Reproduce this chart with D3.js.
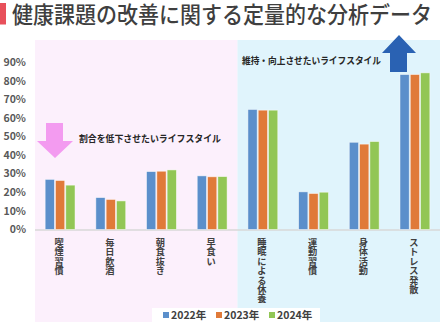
<!DOCTYPE html>
<html><head><meta charset="utf-8">
<script src="https://cdn.jsdelivr.net/npm/d3@7"></script>
<style>
body{margin:0;background:#fff;}
svg{display:block;font-family:"Noto Sans CJK JP","Noto Sans",sans-serif;}
</style></head><body>
<svg id="c" width="445" height="328"></svg>
<script>
const title = "健康課題の改善に関する定量的な分析データ";
const categories = ["喫煙習慣","毎日飲酒","朝食抜き","早食い","睡眠による休養","運動習慣","身体活動","ストレス発散"];
const years = ["2022年","2023年","2024年"];
const v2022 = [27.0, 17.2, 31.2, 28.9, 64.7, 20.3, 47.0, 83.5];
const v2023 = [26.4, 16.2, 31.4, 28.4, 64.3, 19.4, 46.0, 83.5];
const v2024 = [23.9, 15.4, 32.1, 28.5, 64.3, 20.1, 47.4, 84.4];
const yTicks = [0,10,20,30,40,50,60,70,80,90];
const colors = ["#5b8fcb","#e07a39","#92c655"];
const leftNote = "割合を低下させたいライフスタイル";
const rightNote = "維持・向上させたいライフスタイル";

const series = [v2022, v2023, v2024];
const svg = d3.select("#c");
const L = 35, R = 440, T = 40, B = 322;
const y0 = 229.5;

const x = d3.scaleBand().domain(categories).range([L, R]).paddingInner(0.37).paddingOuter(0.18);
const xi = d3.scaleBand().domain(years).range([0, x.bandwidth()]).padding(0.1);
const y = d3.scaleLinear().domain([0, 100]).range([y0, y0 - 185.6]);

// backgrounds
const mid = x(categories[4]) - x.step()*x.paddingInner()/2;
svg.append("rect").attr("x", L).attr("y", T).attr("width", mid - L).attr("height", B - T).attr("fill", "#fcf0fc");
svg.append("rect").attr("x", mid).attr("y", T).attr("width", R - mid).attr("height", B - T).attr("fill", "#e0f4fc");

// title
svg.append("rect").attr("x", 0).attr("y", 3).attr("width", 6).attr("height", 21.5).attr("fill", "#e8505b");
svg.append("text").attr("x", 12).attr("y", 23.2).attr("font-size", 22.5).attr("font-weight", 500)
  .attr("textLength", 420).attr("lengthAdjust", "spacingAndGlyphs")
  .attr("fill", "#3f3f3f").text(title);

// y axis labels
svg.append("g").selectAll("text").data(yTicks).join("text")
  .attr("x", 26).attr("y", d => y(d)).attr("dy", "0.35em").attr("text-anchor", "end")
  .attr("font-size", 10.5).attr("font-weight", 700).attr("fill", "#595959")
  .text(d => d + "%");

// baseline
svg.append("line").attr("x1", L).attr("x2", R).attr("y1", y0 + 0.5).attr("y2", y0 + 0.5)
  .attr("stroke", "#d9d9d9").attr("stroke-width", 1.5);

// bars
const g = svg.append("g");
categories.forEach((c, i) => {
  years.forEach((yr, j) => {
    const v = series[j][i];
    g.append("rect").attr("x", x(c) + xi(yr)).attr("y", y(v))
      .attr("width", xi.bandwidth()).attr("height", y0 - y(v))
      .attr("fill", colors[j]).attr("stroke", "rgba(255,255,255,0.6)").attr("stroke-width", 0.8);
  });
});

// category labels (vertical, one glyph per line)
categories.forEach(c => {
  const t = svg.append("text").attr("font-size", 9.2).attr("font-weight", 700).attr("fill", "#404040")
    .attr("text-anchor", "middle");
  Array.from(c).forEach((ch, k) => {
    t.append("tspan").attr("x", x(c) + x.bandwidth()/2 - 1).attr("y", 246 + k*9.4).text(ch);
  });
});

// left arrow (down)
svg.append("path").attr("d", "M46,123 L63,123 L63,141 L73,141 L55,158 L37,141 L46,141 Z").attr("fill", "#f39bf0");
svg.append("text").attr("x", 79).attr("y", 141.5).attr("font-size", 9.5).attr("font-weight", 700)
  .attr("textLength", 142).attr("lengthAdjust", "spacingAndGlyphs")
  .attr("fill", "#262626").text(leftNote);

// right arrow (up)
svg.append("path").attr("d", "M390,72 L407,72 L407,53 L416,53 L399,35 L382,53 L390,53 Z").attr("fill", "#2a62b3");
svg.append("text").attr("x", 242).attr("y", 64).attr("font-size", 9.5).attr("font-weight", 700)
  .attr("textLength", 139).attr("lengthAdjust", "spacingAndGlyphs")
  .attr("fill", "#262626").text(rightNote);

// legend
svg.append("rect").attr("x", 152).attr("y", 308).attr("width", 168).attr("height", 14).attr("fill", "#fff");
const lg = svg.append("g");
const lx = [163, 216, 269];
years.forEach((yr, j) => {
  lg.append("rect").attr("x", lx[j]).attr("y", 312).attr("width", 6).attr("height", 6).attr("fill", colors[j]);
  lg.append("text").attr("x", lx[j] + 8).attr("y", 319).attr("font-size", 10.5).attr("font-weight", 700)
    .attr("fill", "#404040").text(yr);
});
</script>
</body></html>
